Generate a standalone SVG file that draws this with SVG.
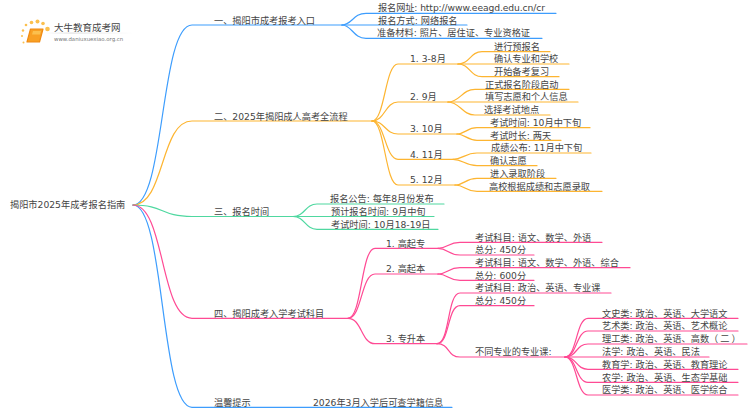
<svg xmlns="http://www.w3.org/2000/svg" width="750" height="410" viewBox="0 0 750 410">
<style>
text{font-family:"DejaVu Sans","Noto Sans CJK SC",sans-serif;font-size:9.2px;fill:#444}
path{fill:none;stroke-width:1.2;stroke-linecap:round}
.b path{stroke:#3d9dfd}
.o path{stroke:#fdb531}
.g path{stroke:#4fd8a0}
.p path{stroke:#ff4a94}
.dot{fill:#fbc04e}
</style>
<defs><linearGradient id="fade"><stop offset="0" stop-color="#ccc" stop-opacity="0"/><stop offset=".3" stop-color="#ccc"/><stop offset="1" stop-color="#ccc" stop-opacity="0"/></linearGradient></defs>
<rect width="750" height="410" fill="#fff"/>
<g id="logo">
<circle class="dot" cx="47.500" cy="29" r="2.300"/><circle class="dot" cx="43" cy="23.500" r="1.800"/><circle class="dot" cx="37.500" cy="21.500" r="2"/><circle class="dot" cx="31.500" cy="22.500" r="1.800"/><circle class="dot" cx="26" cy="25" r="1.300"/><circle class="dot" cx="23" cy="30.500" r="1.200"/><circle class="dot" cx="22" cy="36" r="1"/><circle class="dot" cx="23.500" cy="42.500" r="1"/>
<path d="M30.500 29H43L39.500 42H27Z" style="fill:#f8a024;stroke:#f08a12;stroke-linejoin:round"/>
<path d="M33 31H41L40 34.500H32Z" style="fill:#fbc04e;stroke:none"/>
<rect x="45" y="32.700" width="88" height="0.700" fill="url(#fade)"/>
<text x="54" y="30.500" style="font-size:9.500px">大牛教育成考网</text>
<text x="54" y="41" style="font-size:5.400px;fill:#777">www.daniuxuexiao.org.cn</text>
</g>
<g id="connectors">
<g class="b">
<path d="M133 205C165 205 160 25 192 25H342"/>
<path d="M342 25C352 25 353 13.300 366 13.300H556"/>
<path d="M342 25H467"/>
<path d="M342 25C352 25 353 38.300 366 38.300H542"/>
<path d="M133 205C165 205 160 407.300 192 407.300H452"/>
</g>
<g class="o">
<path d="M133 205C165 205 160 121 192 121H372"/>
<path d="M372 121C385 121 385 64 398 64H458"/>
<path d="M372 121C385 121 385 102 398 102H448"/>
<path d="M372 121C385 121 385 134 398 134H457"/>
<path d="M372 121C385 121 385 159.300 398 159.300H453"/>
<path d="M372 121C385 121 385 185 398 185H455"/>
<path d="M458 64C470 64 470 51.700 482 51.700H550"/>
<path d="M458 64H569"/>
<path d="M458 64C470 64 470 76.700 482 76.700H559"/>
<path d="M448 102C460 102 462 89.300 475 89.300H569"/>
<path d="M448 102H578"/>
<path d="M448 102C460 102 462 115 475 115H550"/>
<path d="M457 134C465 134 467 127.700 477 127.700H590"/>
<path d="M457 134C465 134 467 140.300 477 140.300H561"/>
<path d="M453 159.300C463 159.300 465 153 477 153H591"/>
<path d="M453 159.300C463 159.300 465 165.700 477 165.700H537"/>
<path d="M455 185C465 185 465 178.300 477 178.300H556"/>
<path d="M455 185C465 185 465 191.300 477 191.300H602"/>
</g>
<g class="g">
<path d="M133 205C165 205 160 216.500 192 216.500H293"/>
<path d="M293 216.500C305 216.500 305 204 317 204H444"/>
<path d="M293 216.500H434"/>
<path d="M293 216.500C305 216.500 305 229.300 317 229.300H438"/>
</g>
<g class="p">
<path d="M133 205C165 205 160 318.300 192 318.300H348"/>
<path d="M348 318.300C362 318.300 361 248.300 375 248.300H438"/>
<path d="M348 318.300C362 318.300 361 274 375 274H438"/>
<path d="M348 318.300C362 318.300 361 343.700 375 343.700H437"/>
<path d="M438 248.300C448 248.300 448 242.300 460 242.300H602"/>
<path d="M438 248.300C448 248.300 448 255 460 255H534"/>
<path d="M438 274C448 274 448 267.700 460 267.700H630"/>
<path d="M438 274C448 274 448 280.300 460 280.300H534"/>
<path d="M437 343.700C450 343.700 447 293 460 293H611"/>
<path d="M437 343.700C450 343.700 447 305.700 460 305.700H534"/>
<path d="M437 343.700C450 343.700 447 357 460 357H565"/>
<path d="M565 357C577 357 576 318.300 588 318.300H738"/>
<path d="M565 357C577 357 576 331 588 331H738"/>
<path d="M565 357C577 357 576 344 588 344H747"/>
<path d="M565 357H709"/>
<path d="M565 357C577 357 576 369.300 588 369.300H738"/>
<path d="M565 357C577 357 576 382.300 588 382.300H738"/>
<path d="M565 357C577 357 576 395 588 395H738"/>
</g>
</g>
<g id="root"><text x="10" y="208">揭阳市2025年成考报名指南</text></g>
<g id="n1"><text x="214" y="24">一、揭阳市成考报考入口</text></g>
<g id="n1a"><text x="378" y="11" textLength="167">报名网址: http://www.eeagd.edu.cn/cr</text></g>
<g id="n1b"><text x="378" y="23.500">报名方式: 网络报名</text></g>
<g id="n1c"><text x="377" y="36">准备材料: 照片、居住证、专业资格证</text></g>
<g id="n2"><text x="214" y="119.500">二、2025年揭阳成人高考全流程</text></g>
<g id="n21"><text x="410" y="62">1. 3-8月</text></g>
<g id="n211"><text x="494" y="49.500">进行预报名</text></g>
<g id="n212"><text x="494" y="62">确认专业和学校</text></g>
<g id="n213"><text x="494" y="75">开始备考复习</text></g>
<g id="n22"><text x="410" y="100">2. 9月</text></g>
<g id="n221"><text x="485" y="87.500">正式报名阶段启动</text></g>
<g id="n222"><text x="485" y="100">填写志愿和个人信息</text></g>
<g id="n223"><text x="484" y="113">选择考试地点</text></g>
<g id="n23"><text x="410" y="132">3. 10月</text></g>
<g id="n231"><text x="490" y="125.500">考试时间: 10月中下旬</text></g>
<g id="n232"><text x="490" y="138.500">考试时长: 两天</text></g>
<g id="n24"><text x="410" y="157.500">4. 11月</text></g>
<g id="n241"><text x="491" y="151">成绩公布: 11月中下旬</text></g>
<g id="n242"><text x="490" y="164">确认志愿</text></g>
<g id="n25"><text x="410" y="183">5. 12月</text></g>
<g id="n251"><text x="490" y="176.500">进入录取阶段</text></g>
<g id="n252"><text x="489" y="189.500">高校根据成绩和志愿录取</text></g>
<g id="n3"><text x="214" y="214.500">三、报名时间</text></g>
<g id="n31"><text x="330" y="202">报名公告: 每年8月份发布</text></g>
<g id="n32"><text x="331" y="214.500">预计报名时间: 9月中旬</text></g>
<g id="n33"><text x="331" y="227.500">考试时间: 10月18-19日</text></g>
<g id="n4"><text x="214" y="316.500">四、揭阳成考入学考试科目</text></g>
<g id="n41"><text x="386" y="246.500">1. 高起专</text></g>
<g id="n411"><text x="475" y="240.500">考试科目: 语文、数学、外语</text></g>
<g id="n412"><text x="475" y="253">总分: 450分</text></g>
<g id="n42"><text x="386" y="272">2. 高起本</text></g>
<g id="n421"><text x="475" y="266">考试科目: 语文、数学、外语、综合</text></g>
<g id="n422"><text x="475" y="278.500">总分: 600分</text></g>
<g id="n43"><text x="386" y="341.500">3. 专升本</text></g>
<g id="n431"><text x="475" y="291">考试科目: 政治、英语、专业课</text></g>
<g id="n432"><text x="475" y="304">总分: 450分</text></g>
<g id="n433"><text x="475" y="355">不同专业的专业课:</text></g>
<g id="n4331"><text x="602" y="316.500">文史类: 政治、英语、大学语文</text></g>
<g id="n4332"><text x="602" y="329">艺术类: 政治、英语、艺术概论</text></g>
<g id="n4333"><text x="602" y="342">理工类: 政治、英语、高数（<tspan dx="2">二</tspan><tspan dx="2">）</tspan></text></g>
<g id="n4334"><text x="602" y="355">法学: 政治、英语、民法</text></g>
<g id="n4335"><text x="602" y="367.500">教育学: 政治、英语、教育理论</text></g>
<g id="n4336"><text x="602" y="380.500">农学: 政治、英语、生态学基础</text></g>
<g id="n4337"><text x="602" y="393">医学类: 政治、英语、医学综合</text></g>
<g id="n5"><text x="214" y="405.500">温馨提示</text></g>
<g id="n51"><text x="313" y="405.500">2026年3月入学后可查学籍信息</text></g>
</svg>
